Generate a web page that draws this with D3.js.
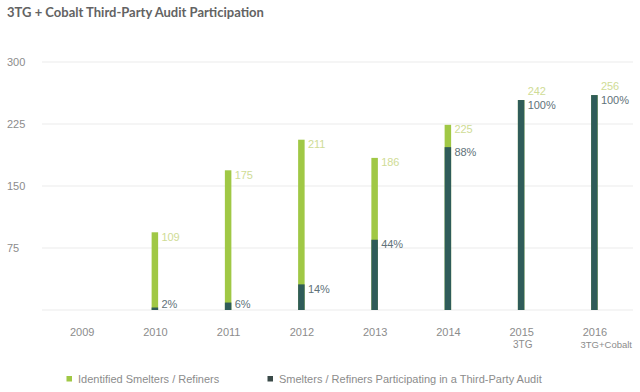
<!DOCTYPE html>
<html>
<head>
<meta charset="utf-8">
<script src="https://cdn.jsdelivr.net/npm/d3@7"></script>
<style>
  html, body { margin: 0; padding: 0; background: #fff; }
  svg { display: block; font-family: "Liberation Sans", Arial, sans-serif; }
</style>
</head>
<body>
<svg id="chart" width="640" height="392"></svg>
<script>
// ---- data ----
const years = ["2009", "2010", "2011", "2012", "2013", "2014", "2015", "2016"];
const identified = [null, 94, 169, 206, 184, 224, 254, 260];
const participating = [null, 3, 9, 31, 85, 197, 254, 260];
const identifiedLabels = ["", "109", "175", "211", "186", "225", "242", "256"];
const participatingLabels = ["", "2%", "6%", "14%", "44%", "88%", "100%", "100%"];
const yTicks = [0, 75, 150, 225, 300];
const seriesNames = ["Identified Smelters / Refiners", "Smelters / Refiners Participating in a Third-Party Audit"];
const title = "3TG + Cobalt Third-Party Audit Participation";

const colGreen = "#a0c845";
const colDark = "#2f5c59";
const colGreenLabel = "#cfdc95";
const colPctLabel = "#5f7279";

const svg = d3.select("#chart");

const x = d3.scalePoint().domain(years).range([45, 631]).padding(0.5);
const y = d3.scaleLinear().domain([0, 300]).range([310, 62]);

// title
svg.append("text")
  .attr("x", 7).attr("y", 17)
  .attr("font-size", 13).attr("font-weight", 700)
  .attr("font-family", "Lato, 'Liberation Sans', sans-serif")
  .attr("fill", "#636363")
  .text(title);

// gridlines
svg.append("g").selectAll("line").data(yTicks).join("line")
  .attr("x1", 42).attr("x2", 633)
  .attr("y1", d => y(d)).attr("y2", d => y(d))
  .attr("stroke", "#ebebeb").attr("stroke-width", 1);

// y tick labels
svg.append("g").selectAll("text").data(yTicks.filter(d => d > 0)).join("text")
  .attr("x", 7).attr("y", d => y(d))
  .attr("dy", "0.35em")
  .attr("font-size", 11).attr("fill", "#8c8c8c")
  .text(d => d);

// x axis labels
const xAxis = d3.axisBottom(x).tickSize(0).tickPadding(0);
const gx = svg.append("g").attr("transform", "translate(0,328)").call(xAxis);
gx.select(".domain").remove();
gx.selectAll("text").attr("font-size", 11).attr("fill", "#8c8c8c")
  .attr("font-family", "Liberation Sans, Arial, sans-serif");

const bw = 6.5;
const idx = d3.range(years.length).filter(i => identified[i] != null);

// green bars
svg.append("g").selectAll("rect").data(idx).join("rect")
  .attr("x", i => x(years[i]) - bw / 2)
  .attr("width", bw)
  .attr("y", i => y(identified[i]))
  .attr("height", i => y(0) - y(identified[i]))
  .attr("fill", colGreen);

// dark bars
svg.append("g").selectAll("rect").data(idx).join("rect")
  .attr("x", i => x(years[i]) - bw / 2)
  .attr("width", bw)
  .attr("y", i => y(participating[i]))
  .attr("height", i => y(0) - y(participating[i]))
  .attr("fill", colDark);

// labels
const full = i => Math.abs(y(identified[i]) - y(participating[i])) < 12;
svg.append("g").selectAll("text").data(idx).join("text")
  .attr("x", i => x(years[i]) + 6.5)
  .attr("y", i => full(i) ? y(identified[i]) - 5 : y(identified[i]) + 8.5)
  .attr("font-size", 11).attr("fill", colGreenLabel)
  .text(i => identifiedLabels[i]);

svg.append("g").selectAll("text").data(idx).join("text")
  .attr("x", i => x(years[i]) + 6.5)
  .attr("y", i => Math.min(y(participating[i]) + 8.5, 308))
  .attr("font-size", 11).attr("fill", colPctLabel)
  .text(i => participatingLabels[i]);

// small stray note
svg.append("text").attr("x", 513).attr("y", 348)
  .attr("font-size", 10).attr("fill", "#8c8c8c").text("3TG");
svg.append("text").attr("x", 632).attr("y", 348).attr("text-anchor", "end")
  .attr("font-size", 9.5).attr("fill", "#8c8c8c").text("3TG+Cobalt");

// legend
const legendX = [66.5, 267.5];
const legendColors = [colGreen, "#3a4a48"];
const lg = svg.append("g").selectAll("g").data(seriesNames).join("g")
  .attr("transform", (d, i) => `translate(${legendX[i]},376)`);
lg.append("rect").attr("width", 5.5).attr("height", 5.5)
  .attr("fill", (d, i) => legendColors[i]);
lg.append("text").attr("x", 11.5).attr("y", 7)
  .attr("font-size", 11).attr("fill", "#8c8c8c")
  .text(d => d);
</script>
</body>
</html>
